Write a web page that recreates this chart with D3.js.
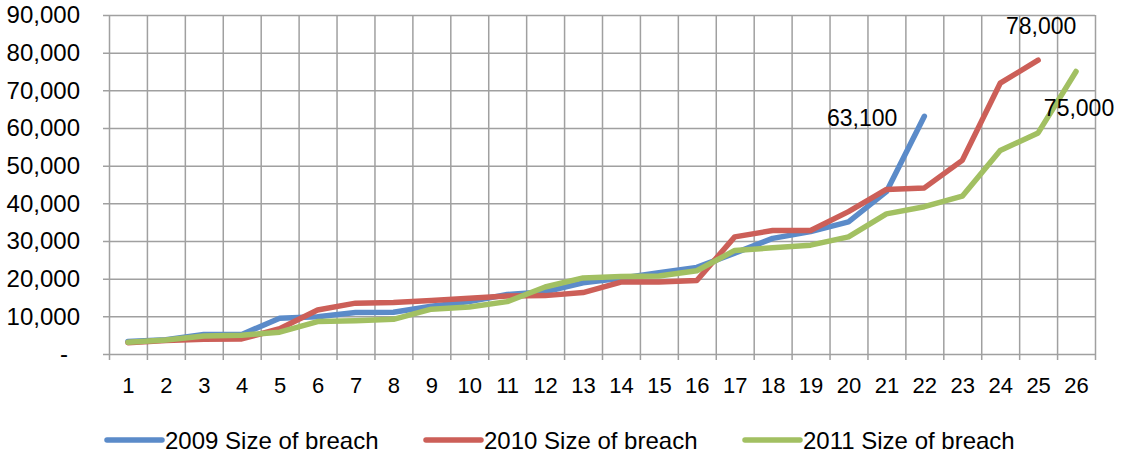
<!DOCTYPE html>
<html>
<head>
<meta charset="utf-8">
<script src="https://cdn.jsdelivr.net/npm/d3@7"></script>
<style>
  html, body { margin: 0; padding: 0; background: #fff; }
  text { font-family: "Liberation Sans", Arial, sans-serif; fill: #000; }
</style>
</head>
<body>
<div id="vis"></div>
<script>
'use strict';

// Data
const categories = [1, 2, 3, 4, 5, 6, 7, 8, 9, 10, 11, 12, 13, 14, 15, 16, 17, 18, 19, 20, 21, 22, 23, 24, 25, 26];
const seriesNames = ['2009 Size of breach', '2010 Size of breach', '2011 Size of breach'];
const breach2009 = [3300, 3800, 5200, 5200, 9500, 9900, 11000, 11100, 12700, 13900, 15800, 16500, 18900,
  20100, 21600, 23000, 26800, 30700, 32500, 35100, 43100, 63100];
const breach2010 = [3000, 3600, 3900, 4000, 6700, 11700, 13500, 13700, 14200, 14800, 15400, 15500, 16300,
  19100, 19100, 19500, 31100, 32800, 32800, 37800, 43700, 44100, 51400, 71900, 78000];
const breach2011 = [3100, 3700, 4800, 5000, 5800, 8600, 8800, 9200, 11900, 12500, 13900, 17800, 20200,
  20600, 20700, 22100, 27500, 28200, 28900, 31100, 37200, 39100, 41900, 54000, 58700, 75000];
const yTicks = [0, 10000, 20000, 30000, 40000, 50000, 60000, 70000, 80000, 90000];

// Sizing
const width = 1122;
const height = 456;
const margin = { top: 15, right: 27, bottom: 102, left: 109 };
const plotW = width - margin.left - margin.right;
const plotH = height - margin.top - margin.bottom;

const colors = ['#5b8bc9', '#cc5f58', '#a2c062'];
const allSeries = [breach2009, breach2010, breach2011];

const svg = d3.select('#vis')
  .append('svg')
  .attr('width', width)
  .attr('height', height);

const g = svg.append('g')
  .attr('transform', `translate(${margin.left},${margin.top})`);

const x = d3.scaleLinear()
  .domain([0.5, categories.length + 0.5])
  .range([0, plotW]);

const y = d3.scaleLinear()
  .domain([0, 90000])
  .range([plotH, 0]);

const fmt = d3.format(',');

// horizontal gridlines + y labels
const yAxis = g.append('g')
  .call(d3.axisLeft(y)
    .tickValues(yTicks)
    .tickSize(-plotW)
    .tickPadding(29)
    .tickFormat(d => d === 0 ? '-' : fmt(d)));
yAxis.select('.domain').remove();
yAxis.selectAll('line')
  .attr('x1', -6)
  .attr('stroke', '#a0a0a0')
  .attr('stroke-width', 1.5);
yAxis.selectAll('text')
  .style('font-size', '24px')
  .attr('fill', '#000');
yAxis.selectAll('text')
  .filter(d => d === 0)
  .attr('dx', -12);

// vertical gridlines at category boundaries
const bounds = d3.range(0, categories.length + 1).map(i => i + 0.5);
const gridX = g.append('g')
  .attr('transform', `translate(0,${plotH})`)
  .call(d3.axisBottom(x)
    .tickValues(bounds)
    .tickSize(-plotH)
    .tickFormat(''));
gridX.select('.domain').remove();
gridX.selectAll('line')
  .attr('y1', 6)
  .attr('stroke', '#a0a0a0')
  .attr('stroke-width', 1.5);

// category labels
const xAxis = g.append('g')
  .attr('transform', `translate(0,${plotH})`)
  .call(d3.axisBottom(x)
    .tickValues(categories)
    .tickSize(0)
    .tickPadding(23));
xAxis.select('.domain').remove();
xAxis.selectAll('text')
  .style('font-size', '22px')
  .attr('fill', '#000');

// lines
const line = d3.line()
  .x((d, i) => x(categories[i]))
  .y(d => y(d));

g.selectAll('.series')
  .data(allSeries)
  .enter()
  .append('path')
  .attr('class', 'series')
  .attr('d', d => line(d))
  .attr('fill', 'none')
  .attr('stroke', (d, i) => colors[i])
  .attr('stroke-width', 5.5)
  .attr('stroke-linejoin', 'round')
  .attr('stroke-linecap', 'round');

// labels on last points: left, above, below
const labelOffsets = [
  { dx: -27, dy: 2, anchor: 'end' },
  { dx: 3, dy: -34, anchor: 'middle' },
  { dx: 3, dy: 36, anchor: 'middle' }
];
allSeries.forEach(function (s, i) {
  const last = s.length - 1;
  const o = labelOffsets[i];
  g.append('text')
    .attr('x', x(categories[last]) + o.dx)
    .attr('y', y(s[last]) + o.dy)
    .attr('text-anchor', o.anchor)
    .attr('dominant-baseline', 'central')
    .style('font-size', '23px')
    .text(fmt(s[last]));
});

// legend
const legendX = [107, 426, 745];
const legend = svg.append('g')
  .selectAll('g')
  .data(seriesNames)
  .enter()
  .append('g')
  .attr('transform', (d, i) => `translate(${legendX[i]},440)`);

legend.append('line')
  .attr('x1', 0)
  .attr('x2', 55)
  .attr('stroke', (d, i) => colors[i])
  .attr('stroke-width', 5.5)
  .attr('stroke-linecap', 'round');

legend.append('text')
  .attr('x', 58)
  .attr('dominant-baseline', 'central')
  .style('font-size', '24px')
  .text(d => d);
</script>
</body>
</html>
